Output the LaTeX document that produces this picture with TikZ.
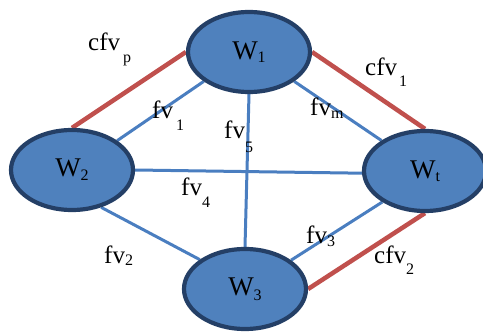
\documentclass[tikz,border=0pt]{standalone}
\usepackage{fontspec}
\setmainfont{Liberation Serif}
\usetikzlibrary{shapes.geometric}
\definecolor{nodefill}{HTML}{4F81BD}
\definecolor{nodeline}{HTML}{243F66}
\definecolor{redline}{HTML}{C0504D}
\definecolor{blueline}{HTML}{4A7EC0}
\newcommand{\lbl}[4]{{\fontsize{#1}{#1}\selectfont #2}\raisebox{-#4pt}{\fontsize{16}{16}\selectfont #3}}
\pgfdeclarelayer{bg}
\pgfsetlayers{bg,main}
\begin{document}
\begin{tikzpicture}[x=1pt,y=-1pt,
  wnode/.style={ellipse, draw=nodeline, fill=nodefill, line width=4.2pt,
    minimum width=122pt, minimum height=80pt, inner sep=0pt},
  redge/.style={draw=redline, line width=4.5pt},
  bedge/.style={draw=blueline, line width=3pt},
  lab/.style={anchor=base west, inner sep=0pt}]
\useasboundingbox (0,0) rectangle (483,332);
\node[wnode] (W1) at (249,52) {\lbl{27}{W}{1}{3}};
\node[wnode] (W2) at (72,170) {\lbl{27}{W}{2}{4}};
\node[wnode] (Wt) at (425,171) {\lbl{27}{W}{t}{3}};
\node[wnode] (W3) at (245,289) {\lbl{27}{W}{3}{5}};
\begin{pgfonlayer}{bg}
\draw[redge] (W1.180) -- (W2.90);
\draw[redge] (W1.0) -- (Wt.90);
\draw[redge] (W3.0) -- (Wt.270);
\draw[bedge] (W1.213) -- (W2.33);
\draw[bedge] (W1.327) -- (Wt.145);
\draw[bedge] (W1.270) -- (W3.90);
\draw[bedge] (W2.0) -- (Wt.182);
\draw[bedge] (W2.308) -- (W3.147);
\draw[bedge] (Wt.216) -- (W3.32);
\end{pgfonlayer}
\node[lab] (lcfvp) at (88,50) {\lbl{25}{cfv}{\hspace{3pt}p}{12}};
\node[lab] (lcfv1) at (365,75) {\lbl{25}{cfv}{\hspace{2pt}1}{11}};
\node[lab] (lfv1) at (152,118) {\lbl{25}{fv}{\hspace{3pt}1}{12}};
\node[lab] (lfvm) at (310,115) {\lbl{25}{fv}{m}{3}};
\node[lab] (lfv5) at (224,138) {\lbl{25}{fv}{5}{14}};
\node[lab] (lfv4) at (181,195) {\lbl{25}{fv}{4}{12}};
\node[lab] (lfv2) at (104,263) {\lbl{25}{fv}{2}{2}};
\node[lab] (lfv3) at (306,243) {\lbl{25}{fv}{3}{3}};
\node[lab] (lcfv2) at (374,263) {\lbl{25}{cfv}{2}{11}};
\end{tikzpicture}
\end{document}
